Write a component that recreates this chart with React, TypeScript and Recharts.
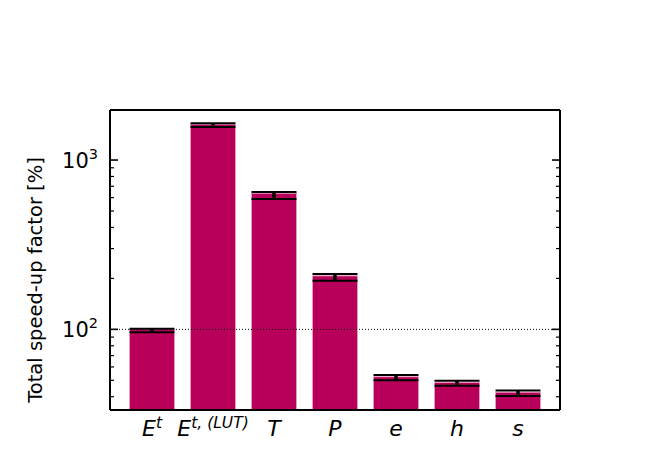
import React from "react";
import { BarChart, Bar, XAxis, YAxis, ErrorBar, ReferenceLine } from "recharts";

const categories = ["Et", "EtLUT", "T", "P", "e", "h", "s"];
const tickMain = ["E", "E", "T", "P", "e", "h", "s"];
const tickSup = ["t", "t, (LUT)", "", "", "", "", ""];
const speedup = [100.3, 1625, 636, 207, 52.5, 48.6, 42.5];
const upper = [101, 1648, 647, 212, 53.7, 49.7, 43.6];
const lower = [96, 1567, 588, 194, 50.0, 46.4, 40.4];
const majorTicks = [100, 1000];
const minorTicks = [40, 50, 60, 70, 80, 90, 200, 300, 400, 500, 600, 700, 800, 900];
const majorExp = ["2", "3"];
const yDomain = [33.4, 1975];

const data = categories.map((c, i) => ({
  name: c,
  value: speedup[i],
  err: [speedup[i] - lower[i], upper[i] - speedup[i]],
  errLine: [speedup[i] - lower[i], upper[i] - speedup[i]],
}));

const FONT = "DejaVu Sans";
const COLOR = "#b8005a";

const LeftTick = (props: any) => {
  const { x, y, payload } = props;
  const v = payload.value;
  const mi = majorTicks.indexOf(v);
  const isMajor = mi >= 0;
  return (
    <g>
      <line x1={x} x2={x + (isMajor ? 8 : 4)} y1={y} y2={y} stroke="#000" strokeWidth={isMajor ? 1.6 : 1.2} />
      {isMajor && (
        <text x={x - 12} y={y + 7.5} textAnchor="end" fontFamily={FONT} fontSize={21} fill="#000">
          10
          <tspan dy={-9} fontSize={14.5}>{majorExp[mi]}</tspan>
        </text>
      )}
    </g>
  );
};

const RightTick = (props: any) => {
  const { x, y, payload } = props;
  const isMajor = majorTicks.indexOf(payload.value) >= 0;
  return (
    <line x1={x} x2={x - (isMajor ? 8 : 4)} y1={y} y2={y} stroke="#000" strokeWidth={isMajor ? 1.6 : 1.2} />
  );
};

const XTick = (props: any) => {
  const { x, y, payload } = props;
  const i = payload.index ?? categories.indexOf(payload.value);
  return (
    <text x={x} y={y + 26} textAnchor="middle" fontFamily={FONT} fontStyle="italic" fontSize={22} fill="#000">
      {tickMain[i]}
      {tickSup[i] ? (
        <tspan dy={-8} fontSize={15.5}>{tickSup[i]}</tspan>
      ) : null}
    </text>
  );
};

const YLabel = (props: any) => {
  const { viewBox } = props;
  const cx = viewBox.x - 15;
  const cy = viewBox.y + viewBox.height / 2 + 20;
  return (
    <text
      x={cx}
      y={cy}
      transform={`rotate(-90 ${cx} ${cy})`}
      textAnchor="middle"
      dominantBaseline="central"
      fontFamily={FONT}
      fontSize={19.5}
      fill="#000"
    >
      Total speed-up factor [%]
    </text>
  );
};

export default function App() {
  const allTicks = [...minorTicks, ...majorTicks].sort((a, b) => a - b);
  return (
    <div style={{ width: 660, height: 460, background: "#fff" }}>
      <BarChart
        width={660}
        height={460}
        data={data}
        margin={{ top: 102, right: 100, bottom: 28, left: 42 }}
        barSize={45}
      >
        <XAxis
          dataKey="name"
          xAxisId="bottom"
          height={30}
          padding={{ left: 11.5, right: 11.5 }}
          tickLine={false}
          tickSize={0}
          tickMargin={0}
          axisLine={{ stroke: "#000", strokeWidth: 2 }}
          tick={<XTick />}
          interval={0}
        />
        <YAxis
          yAxisId="left"
          scale="log"
          domain={yDomain}
          allowDataOverflow
          ticks={allTicks}
          interval={0}
          width={60}
          tickSize={0}
          tickMargin={0}
          tickLine={false}
          axisLine={{ stroke: "#000", strokeWidth: 2 }}
          tick={<LeftTick />}
          label={<YLabel />}
        />
        <YAxis
          yAxisId="right"
          orientation="right"
          scale="log"
          domain={yDomain}
          allowDataOverflow
          ticks={allTicks}
          interval={0}
          width={8}
          tickSize={0}
          tickMargin={0}
          tickLine={false}
          axisLine={{ stroke: "#000", strokeWidth: 2 }}
          tick={<RightTick />}
        />
        <ReferenceLine
          y={100}
          yAxisId="left"
          xAxisId="bottom"
          stroke="#000"
          strokeWidth={1}
          strokeDasharray="1 2"
        />
        <Bar
          dataKey="value"
          xAxisId="bottom"
          yAxisId="left"
          fill={COLOR}
          stroke="#e9a3c4"
          strokeWidth={0.8}
          isAnimationActive={false}
        >
          <ErrorBar dataKey="err" direction="y" width={22.5} stroke="#000" strokeWidth={2} isAnimationActive={false} />
          <ErrorBar dataKey="errLine" direction="y" width={0} stroke="#000" strokeWidth={3.5} isAnimationActive={false} />
        </Bar>
        <ReferenceLine
          y={yDomain[1]}
          yAxisId="left"
          xAxisId="bottom"
          stroke="#000"
          strokeWidth={2}
          ifOverflow="visible"
        />
      </BarChart>
    </div>
  );
}
